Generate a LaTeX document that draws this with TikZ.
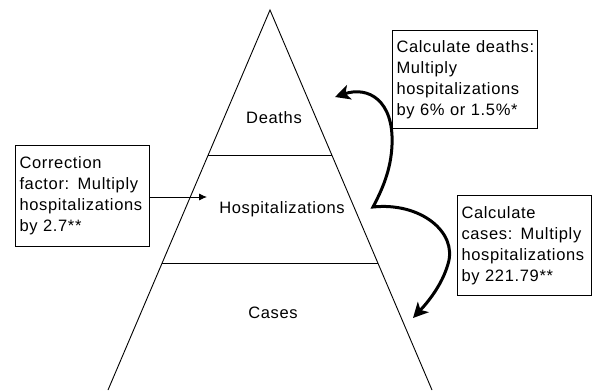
\documentclass[tikz,border=0pt]{standalone}
\usepackage{fontspec}
\setmainfont{Liberation Sans}[LetterSpace=4]
\usetikzlibrary{arrows.meta,positioning,calc}

\tikzset{
  edge/.style={line width=0.9pt},
  tier/.style={font=\fontsize{16.5}{21}\selectfont},
  infobox/.style={draw,line width=1pt,anchor=north west,align=left,inner xsep=4pt,
    font=\fontsize{16.5}{21}\selectfont},
  feed/.style={line width=0.9pt,-{Latex[length=8pt,width=7pt]}},
  swoop/.style={line width=3pt,{Stealth[length=15pt,width=15pt,inset=4pt]}-{Stealth[length=15pt,width=15pt,inset=4pt]}},
}

\begin{document}
\begin{tikzpicture}[x=1pt,y=-1pt]
  \useasboundingbox (0,0) rectangle (593,390);

  % Pyramid
  \coordinate (apex) at (270,10);
  \coordinate (bl) at (108,390);
  \coordinate (br) at (432,390);
  \draw[edge] (bl) -- (apex) -- (br);
  \draw[edge] ($(apex)!0.382!(bl)$) -- ($(apex)!0.382!(br)$);
  \draw[edge] ($(apex)!0.666!(bl)$) -- ($(apex)!0.666!(br)$);

  % Tier labels
  \node[tier] (deaths) at (274,118) {Deaths};
  \node[tier] (hosp) at (282,209) {Hospitalizations};
  \node[tier] (cases) at (273,313) {Cases};

  % Boxes
  \node[infobox,text width=137pt,minimum height=98pt] (deathcalc) at (392,30)
    {Calculate deaths:\\Multiply\\hospitalizations\\by 6\% or 1.5\%*};
  \node[infobox,text width=126pt,minimum height=101pt] (corr) at (15,145)
    {Correction\\factor: Multiply\\hospitalizations\\by 2.7**};
  \node[infobox,text width=126pt,minimum height=100pt] (casecalc) at (457,195)
    {Calculate\\cases: Multiply\\hospitalizations\\by 221.79**};

  % Correction arrow
  \coordinate (hin) at (207,197);
  \draw[feed] (corr.east |- hin) -- (hin);

  % Conversion curve
  \coordinate (dtip) at (335,97);
  \coordinate (kink) at (373,207);
  \coordinate (ctip) at (413,318);
  \draw[swoop] (dtip) .. controls (368,86) and (394,100) .. (392,145)
    .. controls (391,170) and (382,190) .. (kink)
    .. controls (420,202) and (458,232) .. (448,264)
    .. controls (442,285) and (428,302) .. (ctip);
\end{tikzpicture}
\end{document}
